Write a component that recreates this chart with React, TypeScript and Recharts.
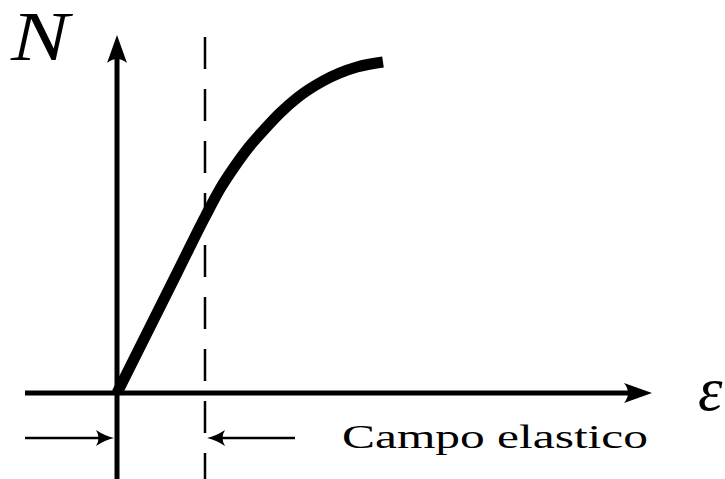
import React from 'react';
import { ComposedChart, Line, XAxis, YAxis, ReferenceLine, ReferenceDot } from 'recharts';

// Stress-strain curve (strain -> load)
const curveStrain = [0, 30, 60, 88, 103, 118, 132, 146, 163, 180, 206, 240, 266];
const curveLoad = [0, 60, 120, 176, 204, 227, 246, 262, 280, 295, 312, 326, 331];

const strainDomain: [number, number] = [-117, 608];
const loadDomain: [number, number] = [-86, 393];

const xAxisStart = -92;
const xAxisEnd = 535;
const yAxisBottom = -86;
const yAxisTop = 358;
const elasticLimit = 88;
const dashTop = 356;
const spanLevel = -45;
const spanLeftStart = -92;
const spanLeftEnd = -3;
const spanRightStart = 178;
const spanRightEnd = 90;

const labelN = 'N';
const labelEps = 'ε';
const labelSpan = 'Campo elastico';
const posN = { x: -106, y: 333 };
const posEps = { x: 581, y: -17 };
const posSpan = { x: 225, y: -55 };

const curveData = curveStrain.map((x, i) => ({ x, y: curveLoad[i] }));

const serif = 'Liberation Serif';

const arrowShape = (shorten: number, width: number, marker: string) => (p: any) => {
  const { x1, y1, x2, y2 } = p;
  const dx = x2 - x1;
  const dy = y2 - y1;
  const L = Math.hypot(dx, dy) || 1;
  return (
    <line
      x1={x1}
      y1={y1}
      x2={x2 - (dx / L) * shorten}
      y2={y2 - (dy / L) * shorten}
      stroke="#000"
      strokeWidth={width}
      markerEnd={`url(#${marker})`}
    />
  );
};

const textShape = (txt: string, size: number, italic: boolean, length?: number) => (p: any) => (
  <text
    x={p.cx}
    y={p.cy}
    fontFamily={serif}
    fontStyle={italic ? 'italic' : 'normal'}
    fontSize={size}
    fill="#000"
    textLength={length}
    lengthAdjust={length ? 'spacingAndGlyphs' : undefined}
  >
    {txt}
  </text>
);

export default function App() {
  return (
    <div style={{ width: 725, height: 479 }}>
      <style>{'body{margin:0}'}</style>
      <ComposedChart width={725} height={479} data={curveData} margin={{ top: 0, right: 0, bottom: 0, left: 0 }}>
        <defs>
          <marker id="bigHead" markerWidth={60} markerHeight={60} refX={0} refY={0} orient="auto" markerUnits="userSpaceOnUse" overflow="visible">
            <path d="M22,0 L-6,-10 Q2,0 -6,10 Z" fill="#000" />
          </marker>
          <marker id="smallHead" markerWidth={40} markerHeight={40} refX={0} refY={0} orient="auto" markerUnits="userSpaceOnUse" overflow="visible">
            <path d="M6,0 Q-3,-2 -12,-8 Q-7,0 -12,8 Q-3,2 6,0 Z" fill="#000" />
          </marker>
        </defs>
        <XAxis dataKey="x" type="number" domain={strainDomain} hide allowDataOverflow />
        <YAxis type="number" domain={loadDomain} hide allowDataOverflow />
        <ReferenceLine
          segment={[{ x: xAxisStart, y: 0 }, { x: xAxisEnd, y: 0 }]}
          ifOverflow="visible"
          shape={arrowShape(22, 5, 'bigHead')}
        />
        <ReferenceLine
          segment={[{ x: 0, y: yAxisBottom }, { x: 0, y: yAxisTop }]}
          ifOverflow="visible"
          shape={arrowShape(22, 5, 'bigHead')}
        />
        <ReferenceLine
          segment={[{ x: elasticLimit, y: dashTop }, { x: elasticLimit, y: yAxisBottom }]}
          ifOverflow="visible"
          stroke="#000"
          strokeWidth={2.5}
          strokeDasharray="32 20"
        />
        <ReferenceLine
          segment={[{ x: spanLeftStart, y: spanLevel }, { x: spanLeftEnd, y: spanLevel }]}
          ifOverflow="visible"
          shape={arrowShape(6, 2.5, 'smallHead')}
        />
        <ReferenceLine
          segment={[{ x: spanRightStart, y: spanLevel }, { x: spanRightEnd, y: spanLevel }]}
          ifOverflow="visible"
          shape={arrowShape(6, 2.5, 'smallHead')}
        />
        <Line
          dataKey="y"
          type="monotone"
          stroke="#000"
          strokeWidth={11}
          dot={false}
          activeDot={false}
          isAnimationActive={false}
        />
        <ReferenceDot x={posN.x} y={posN.y} r={0} ifOverflow="visible" shape={textShape(labelN, 70, true, 58)} />
        <ReferenceDot x={posEps.x} y={posEps.y} r={0} ifOverflow="visible" shape={textShape(labelEps, 62, true)} />
        <ReferenceDot x={posSpan.x} y={posSpan.y} r={0} ifOverflow="visible" shape={textShape(labelSpan, 33, false, 306)} />
      </ComposedChart>
    </div>
  );
}
